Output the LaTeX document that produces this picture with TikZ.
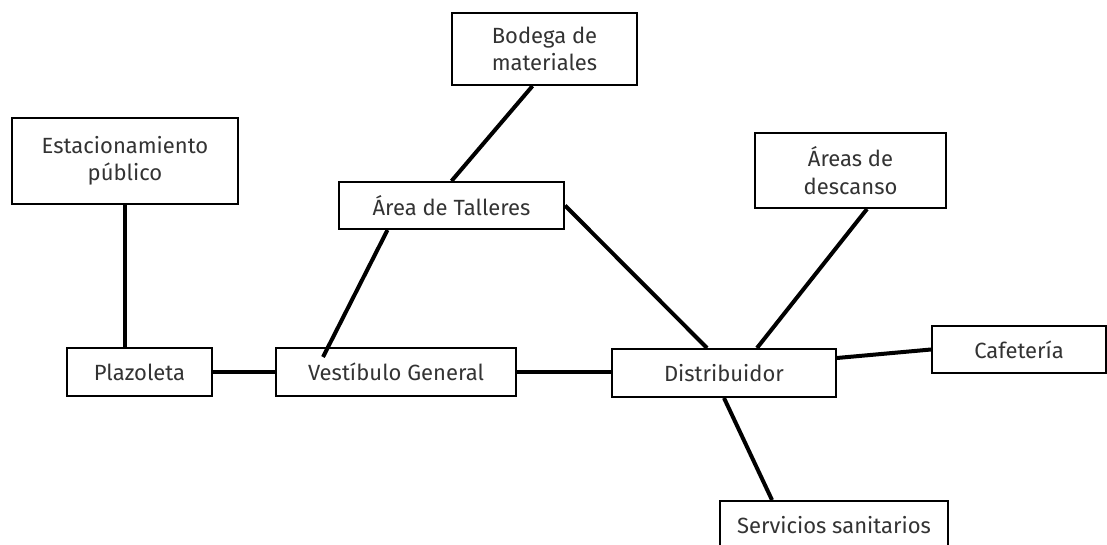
\documentclass[tikz,border=0pt]{standalone}
\usepackage{fontspec}
\setmainfont{Fira Sans}
\usetikzlibrary{calc}
\tikzset{
  box/.style={draw=black, line width=1.5pt, fill=white, rectangle, inner sep=0pt,
    align=center, font=\fontsize{16.5}{20.5}\selectfont, text=black!80},
  link/.style={line width=3pt, black}
}
\begin{document}
\begin{tikzpicture}[x=0.75pt,y=-0.75pt]
\useasboundingbox (0,0) rectangle (1107,545);
\clip (0,0) rectangle (1107,545);
\node[box, minimum width=185*0.75pt, minimum height=72*0.75pt] (bod) at (544.5,49) {Bodega de\\materiales};
\node[box, minimum width=226*0.75pt, minimum height=86*0.75pt] (est) at (125,161) {Estacionamiento\\público};
\node[box, minimum width=225*0.75pt, minimum height=47*0.75pt] (tal) at (451.5,205.5) {Área de Talleres};
\node[box, minimum width=191*0.75pt, minimum height=75*0.75pt] (are) at (850.5,170.5) {Áreas de\\descanso};
\node[box, minimum width=145*0.75pt, minimum height=48*0.75pt] (pla) at (139.5,372) {Plazoleta};
\node[box, minimum width=240*0.75pt, minimum height=48*0.75pt] (ves) at (396,372) {Vestíbulo General};
\node[box, minimum width=224*0.75pt, minimum height=48*0.75pt] (dis) at (724,373) {Distribuidor};
\node[box, minimum width=174*0.75pt, minimum height=47*0.75pt] (caf) at (1019,349.5) {Cafetería};
\node[box, minimum width=228*0.75pt, minimum height=48*0.75pt] (ser) at (834,525) {Servicios sanitarios};
\draw[link] ($(bod.south)+(-12,0)$) -- (tal.north);
\draw[link] (est.south) -- (est.south |- pla.north);
\draw[link] (pla.east) -- (ves.west);
\draw[link] (ves.east) -- (ves.east -| dis.west);
\draw[link] ($(tal.south)+(-64,0)$) -- ($(ves.north)+(-73,10)$);
\draw[link] (tal.east) -- ($(dis.north)+(-17,0)$);
\draw[link] ($(are.south)+(16.5,0)$) -- ($(dis.north)+(33,0)$);
\draw[link] ($(dis.east)+(0,-15)$) -- (caf.west);
\draw[link] (dis.south) -- ($(ser.north)+(-62,0)$);
\end{tikzpicture}
\end{document}
